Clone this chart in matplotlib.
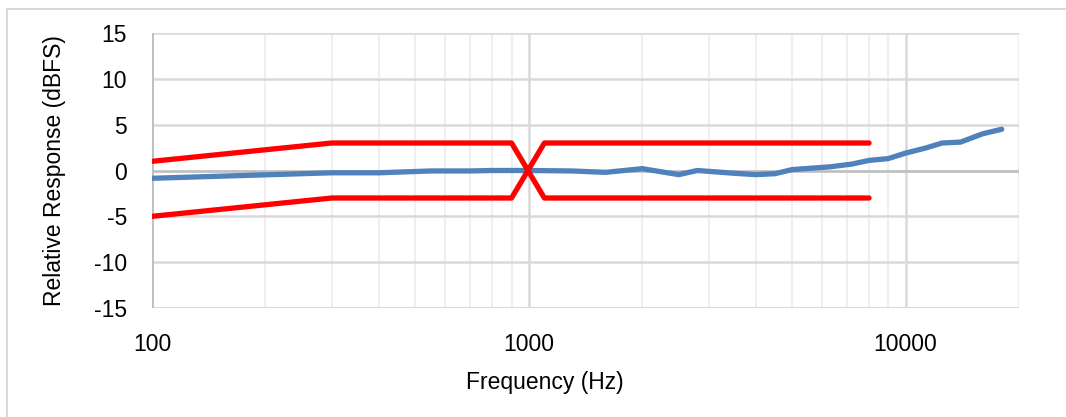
import matplotlib
matplotlib.use("Agg")
import matplotlib.pyplot as plt
from matplotlib.lines import Line2D
from matplotlib.ticker import FixedLocator, NullFormatter

plt.rcParams['font.family'] = ['Liberation Sans', 'DejaVu Sans']

# Measured response
freq = [100, 300, 400, 550, 700, 800, 1000, 1300, 1600, 2000, 2500, 2800, 3500,
        4000, 4500, 5000, 6300, 7200, 8000, 9000, 10000, 11300, 12500, 14000, 16000, 18000]
resp = [-0.85, -0.25, -0.25, -0.05, -0.05, 0.0, 0.0, -0.05, -0.2, 0.2, -0.45, 0.0, -0.3,
        -0.45, -0.35, 0.1, 0.4, 0.7, 1.1, 1.3, 1.9, 2.45, 3.0, 3.1, 4.0, 4.5]

# Tolerance limits
lim_freq = [100, 300, 900, 1100, 8000]
lim_upper = [1, 3, 3, -3, -3]
lim_lower = [-5, -3, -3, 3, 3]

xticks = [100, 1000, 10000]
xticklabels = ['100', '1000', '10000']
yticks = [-15, -10, -5, 0, 5, 10, 15]

FS = 16.5
W, H = 1066, 417
fig = plt.figure(figsize=(W / 100, H / 100), dpi=100)
ax = fig.add_axes([152 / W, (H - 308) / H, 867 / W, 275 / H])

ax.set_xscale('log')
ax.set_xlim(100, 20000)
ax.set_ylim(-15, 15)

# minor gridlines
minors = [m * d for d in (100, 1000, 10000) for m in range(2, 10) if m * d <= 20000]
for m in minors:
    ax.axvline(m, color='#efefef', lw=1.5, zorder=0)
for t in xticks:
    ax.axvline(t, color='#d9d9d9', lw=1.8, zorder=0.5)
for y in yticks:
    ax.axhline(y, color='#d9d9d9', lw=1.8, zorder=0.5)
ax.axhline(0, color='#bfbfbf', lw=1.8, zorder=0.6)
ax.axhline(-15, color='#d9d9d9', lw=2, zorder=0.6)
ax.axvline(100, color='#bfbfbf', lw=2, zorder=0.6)

ax.plot(lim_freq, lim_upper, color='#ff0000', lw=3.8, solid_capstyle='round', zorder=3)
ax.plot(lim_freq, lim_lower, color='#ff0000', lw=3.8, solid_capstyle='round', zorder=3)
ax.plot(freq, resp, color='#4f81bd', lw=3.8, solid_capstyle='round',
        solid_joinstyle='round', zorder=2)

for s in ax.spines.values():
    s.set_visible(False)

ax.xaxis.set_major_locator(FixedLocator(xticks))
ax.set_xticklabels(xticklabels)
ax.xaxis.set_minor_locator(FixedLocator(minors))
ax.xaxis.set_minor_formatter(NullFormatter())
ax.set_yticks(yticks)
ax.set_yticklabels([str(v) for v in yticks])
ax.tick_params(axis='both', which='both', length=0, labelsize=FS, colors='#000000')
ax.tick_params(axis='x', pad=18)
ax.tick_params(axis='y', pad=18)

ax.set_xlabel('Frequency (Hz)', fontsize=FS, labelpad=11)
ax.xaxis.label.set_x((545 - 152) / 867)
ax.set_ylabel('Relative Response (dBFS)', fontsize=FS, labelpad=20)

# outer frame (top and left edges visible)
fig.add_artist(Line2D([7 / W, 1], [1 - 9 / H, 1 - 9 / H], color='#d9d9d9', lw=1.5,
                      transform=fig.transFigure))
fig.add_artist(Line2D([7 / W, 7 / W], [0, 1 - 9 / H], color='#d9d9d9', lw=1.5,
                      transform=fig.transFigure))

fig.savefig('out.png', dpi=100, facecolor='white')
